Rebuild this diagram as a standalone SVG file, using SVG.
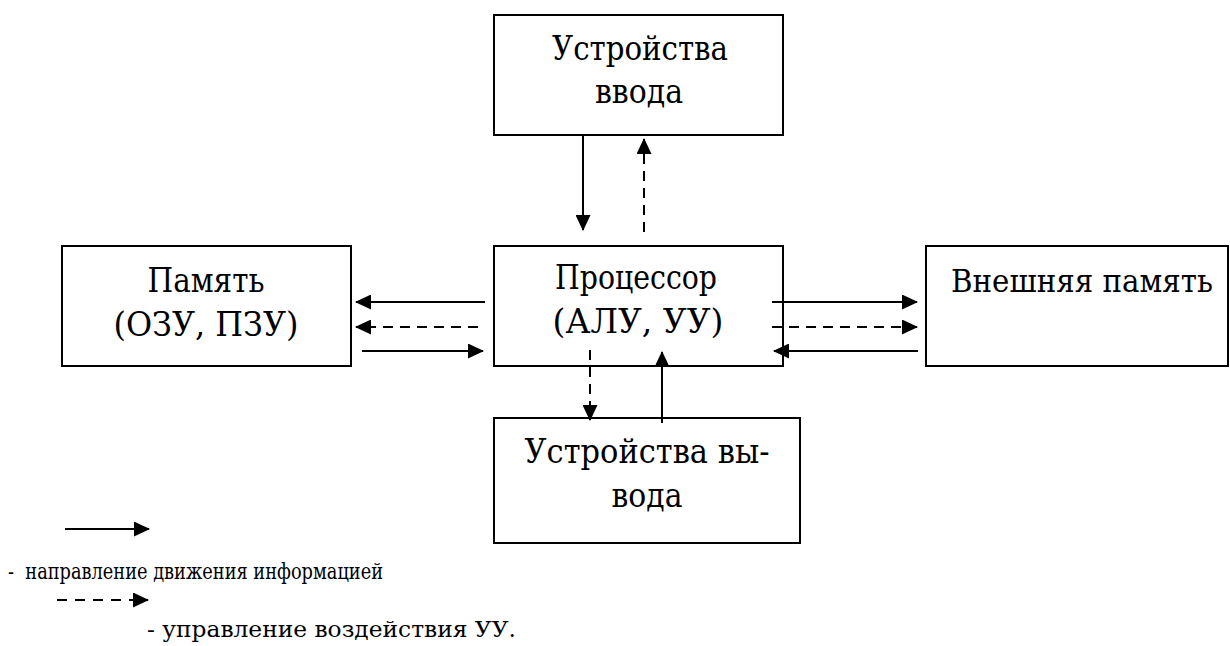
<svg xmlns="http://www.w3.org/2000/svg" width="1230" height="646" viewBox="0 0 1230 646">
<style>
.box{fill:#fff;stroke:#000;stroke-width:2}
text{font-family:'DejaVu Serif',serif;fill:#000}
.t{font-size:33px;text-anchor:middle}
.lg{font-size:22px;white-space:pre}
.a{stroke:#000;stroke-width:2;fill:none;marker-end:url(#ah)}
.d{stroke-dasharray:10 7}
</style>
<defs>
<marker id="ah" markerUnits="userSpaceOnUse" markerWidth="17" markerHeight="15" refX="15" refY="7.5" orient="auto">
<path d="M0,0 L16,7.5 L0,15 z" fill="#000" stroke="none"/>
</marker>
</defs>
<rect width="1230" height="646" fill="#fff"/>
<g id="input">
<rect class="box" x="494" y="15" width="289" height="120"/>
<text class="t" x="640" y="60" textLength="176" lengthAdjust="spacingAndGlyphs">Устройства</text>
<text class="t" x="639" y="103" textLength="88" lengthAdjust="spacingAndGlyphs">ввода</text>
</g>
<g id="memory">
<rect class="box" x="62" y="246" width="289" height="120"/>
<text class="t" x="206" y="292" textLength="117" lengthAdjust="spacingAndGlyphs">Память</text>
<text class="t" x="206" y="336" textLength="185" lengthAdjust="spacingAndGlyphs">(ОЗУ, ПЗУ)</text>
</g>
<g id="cpu">
<rect class="box" x="494" y="246" width="289" height="120"/>
<text class="t" x="636" y="289" textLength="162" lengthAdjust="spacingAndGlyphs">Процессор</text>
<text class="t" x="638" y="333" textLength="171" lengthAdjust="spacingAndGlyphs">(АЛУ, УУ)</text>
</g>
<g id="extmem">
<rect class="box" x="926" y="246" width="302" height="120"/>
<text class="t" x="1082" y="292" style="font-size:31px" textLength="262" lengthAdjust="spacingAndGlyphs">Внешняя память</text>
</g>
<g id="output">
<rect class="box" x="494" y="418" width="306" height="125"/>
<text class="t" x="647" y="463" textLength="245" lengthAdjust="spacingAndGlyphs">Устройства вы-</text>
<text class="t" x="647" y="507" textLength="71" lengthAdjust="spacingAndGlyphs">вода</text>
</g>
<g id="connectors">
<line class="a" x1="583" y1="135" x2="583" y2="230"/>
<line class="a d" x1="644" y1="232" x2="644" y2="139"/>
<line class="a" x1="485" y1="302" x2="356" y2="302"/>
<line class="a d" x1="478" y1="327" x2="356" y2="327"/>
<line class="a" x1="362" y1="351" x2="483" y2="351"/>
<line class="a" x1="772" y1="302" x2="917" y2="302"/>
<line class="a d" x1="772" y1="327" x2="917" y2="327"/>
<line class="a" x1="918" y1="351" x2="774" y2="351"/>
<line class="a d" x1="590" y1="350" x2="590" y2="420"/>
<line class="a" x1="662" y1="423" x2="662" y2="352"/>
</g>
<g id="legend">
<line class="a" x1="65" y1="529" x2="149" y2="529"/>
<text class="lg" x="8" y="579" textLength="375" lengthAdjust="spacingAndGlyphs">-  направление движения информацией</text>
<line class="a" x1="57" y1="600" x2="148" y2="600" style="stroke-dasharray:10 8"/>
<text class="lg" x="147" y="637" style="font-size:23px" textLength="369" lengthAdjust="spacingAndGlyphs">- управление воздействия УУ.</text>
</g>
</svg>
